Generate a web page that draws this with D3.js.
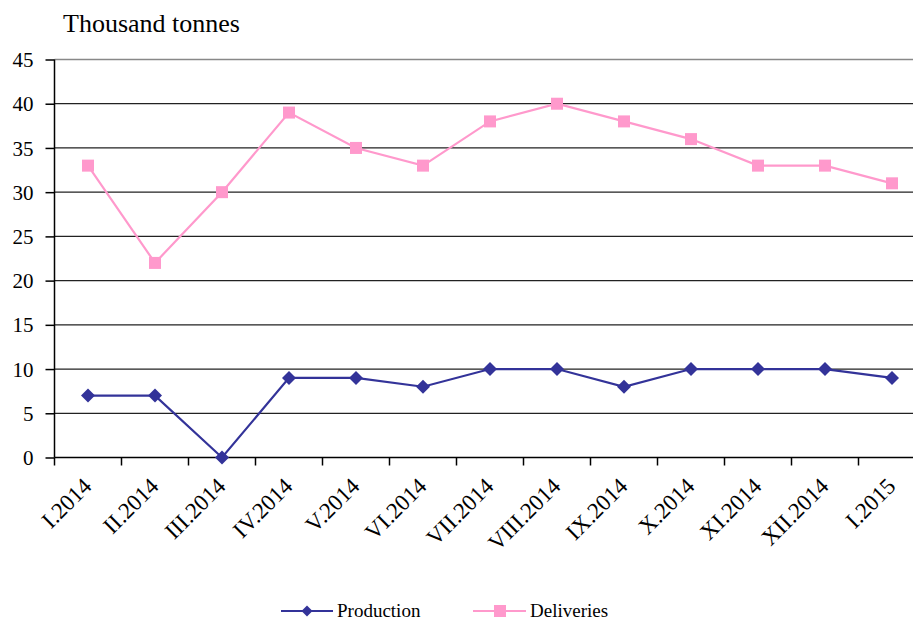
<!DOCTYPE html>
<html>
<head>
<meta charset="utf-8">
<script src="https://cdn.jsdelivr.net/npm/d3@7"></script>
<style>
    body { margin: 0; background: #fff; }
    svg text { font-family: "Liberation Serif", "Times New Roman", serif; fill: #000; }
</style>
</head>
<body>
<div id="chart"></div>
<script>
// chart data
const months = ["I.2014", "II.2014", "III.2014", "IV.2014", "V.2014", "VI.2014", "VII.2014",
    "VIII.2014", "IX.2014", "X.2014", "XI.2014", "XII.2014", "I.2015"];
const production = [7, 7, 0, 9, 9, 8, 10, 10, 8, 10, 10, 10, 9];
const deliveries = [33, 22, 30, 39, 35, 33, 38, 40, 38, 36, 33, 33, 31];
const yTicks = [0, 5, 10, 15, 20, 25, 30, 35, 40, 45];

const width = 913;
const height = 621;

const svg = d3.select("#chart").append("svg")
    .attr("width", width)
    .attr("height", height);

const x = d3.scaleBand().domain(months).range([54.5, 925.5]);
const y = d3.scaleLinear().domain([0, 45]).range([457.5, 59.5]);
const cx = function(d, i) { return x(months[i]) + x.bandwidth() / 2; };

// gridlines
svg.append("g").selectAll("line")
    .data(yTicks.slice(1))
    .enter().append("line")
    .attr("x1", 54.5).attr("x2", 925)
    .attr("y1", d => y(d)).attr("y2", d => y(d))
    .attr("stroke", d => d === 45 ? "#888" : "#222")
    .attr("stroke-width", 1.3);

// y axis
const yAxis = svg.append("g")
    .attr("transform", "translate(54.5,0)")
    .call(d3.axisLeft(y).tickValues(yTicks).tickSize(9).tickPadding(12));
yAxis.selectAll("text").style("font-size", "21px").attr("dy", "0.34em");
yAxis.selectAll("line, path").attr("stroke", "#000").attr("stroke-width", 1.5);
yAxis.select(".domain").attr("d", "M0," + y(45) + "V" + y(0));

// x axis
const xAxis = svg.append("g")
    .attr("transform", "translate(0," + y(0) + ")");
xAxis.append("line")
    .attr("x1", 54.5).attr("x2", 925)
    .attr("stroke", "#000").attr("stroke-width", 1.5);
xAxis.selectAll(".tick")
    .data(months)
    .enter().append("line")
    .attr("x1", d => x(d)).attr("x2", d => x(d))
    .attr("y1", 0).attr("y2", 8)
    .attr("stroke", "#000").attr("stroke-width", 1.5);
xAxis.selectAll(".lbl")
    .data(months)
    .enter().append("text")
    .attr("class", "lbl")
    .attr("text-anchor", "end")
    .style("font-size", "23px")
    .attr("transform", d => "translate(" + (x(d) + x.bandwidth() / 2 + 5) + ",30) rotate(-45)")
    .text(d => d);

// title
svg.append("text")
    .attr("x", 63).attr("y", 32)
    .style("font-size", "26px")
    .text("Thousand tonnes");

const line = d3.line().x(cx).y(d => y(d));

// deliveries
svg.append("path")
    .datum(deliveries)
    .attr("fill", "none")
    .attr("stroke", "#FF99CC")
    .attr("stroke-width", 2.2)
    .attr("d", line);
svg.append("g").selectAll("rect")
    .data(deliveries)
    .enter().append("rect")
    .attr("x", (d, i) => cx(d, i) - 6)
    .attr("y", d => y(d) - 6)
    .attr("width", 12).attr("height", 12)
    .attr("fill", "#FF99CC");

// production
svg.append("path")
    .datum(production)
    .attr("fill", "none")
    .attr("stroke", "#333399")
    .attr("stroke-width", 2.2)
    .attr("d", line);
const diamond = "M0,-7L7,0L0,7L-7,0Z";
svg.append("g").selectAll("path")
    .data(production)
    .enter().append("path")
    .attr("d", diamond)
    .attr("transform", (d, i) => "translate(" + cx(d, i) + "," + y(d) + ")")
    .attr("fill", "#333399");

// legend
const legend = svg.append("g");
legend.append("line").attr("x1", 281).attr("x2", 333).attr("y1", 611).attr("y2", 611)
    .attr("stroke", "#333399").attr("stroke-width", 2.2);
legend.append("path").attr("d", "M0,-5.5L5.5,0L0,5.5L-5.5,0Z")
    .attr("transform", "translate(307,611)").attr("fill", "#333399");
legend.append("text").attr("x", 337).attr("y", 617).style("font-size", "19px").text("Production");
legend.append("line").attr("x1", 473).attr("x2", 526).attr("y1", 611).attr("y2", 611)
    .attr("stroke", "#FF99CC").attr("stroke-width", 2.2);
legend.append("rect").attr("x", 494).attr("y", 605).attr("width", 12).attr("height", 12)
    .attr("fill", "#FF99CC");
legend.append("text").attr("x", 530).attr("y", 617).style("font-size", "19px").text("Deliveries");
</script>
</body>
</html>
